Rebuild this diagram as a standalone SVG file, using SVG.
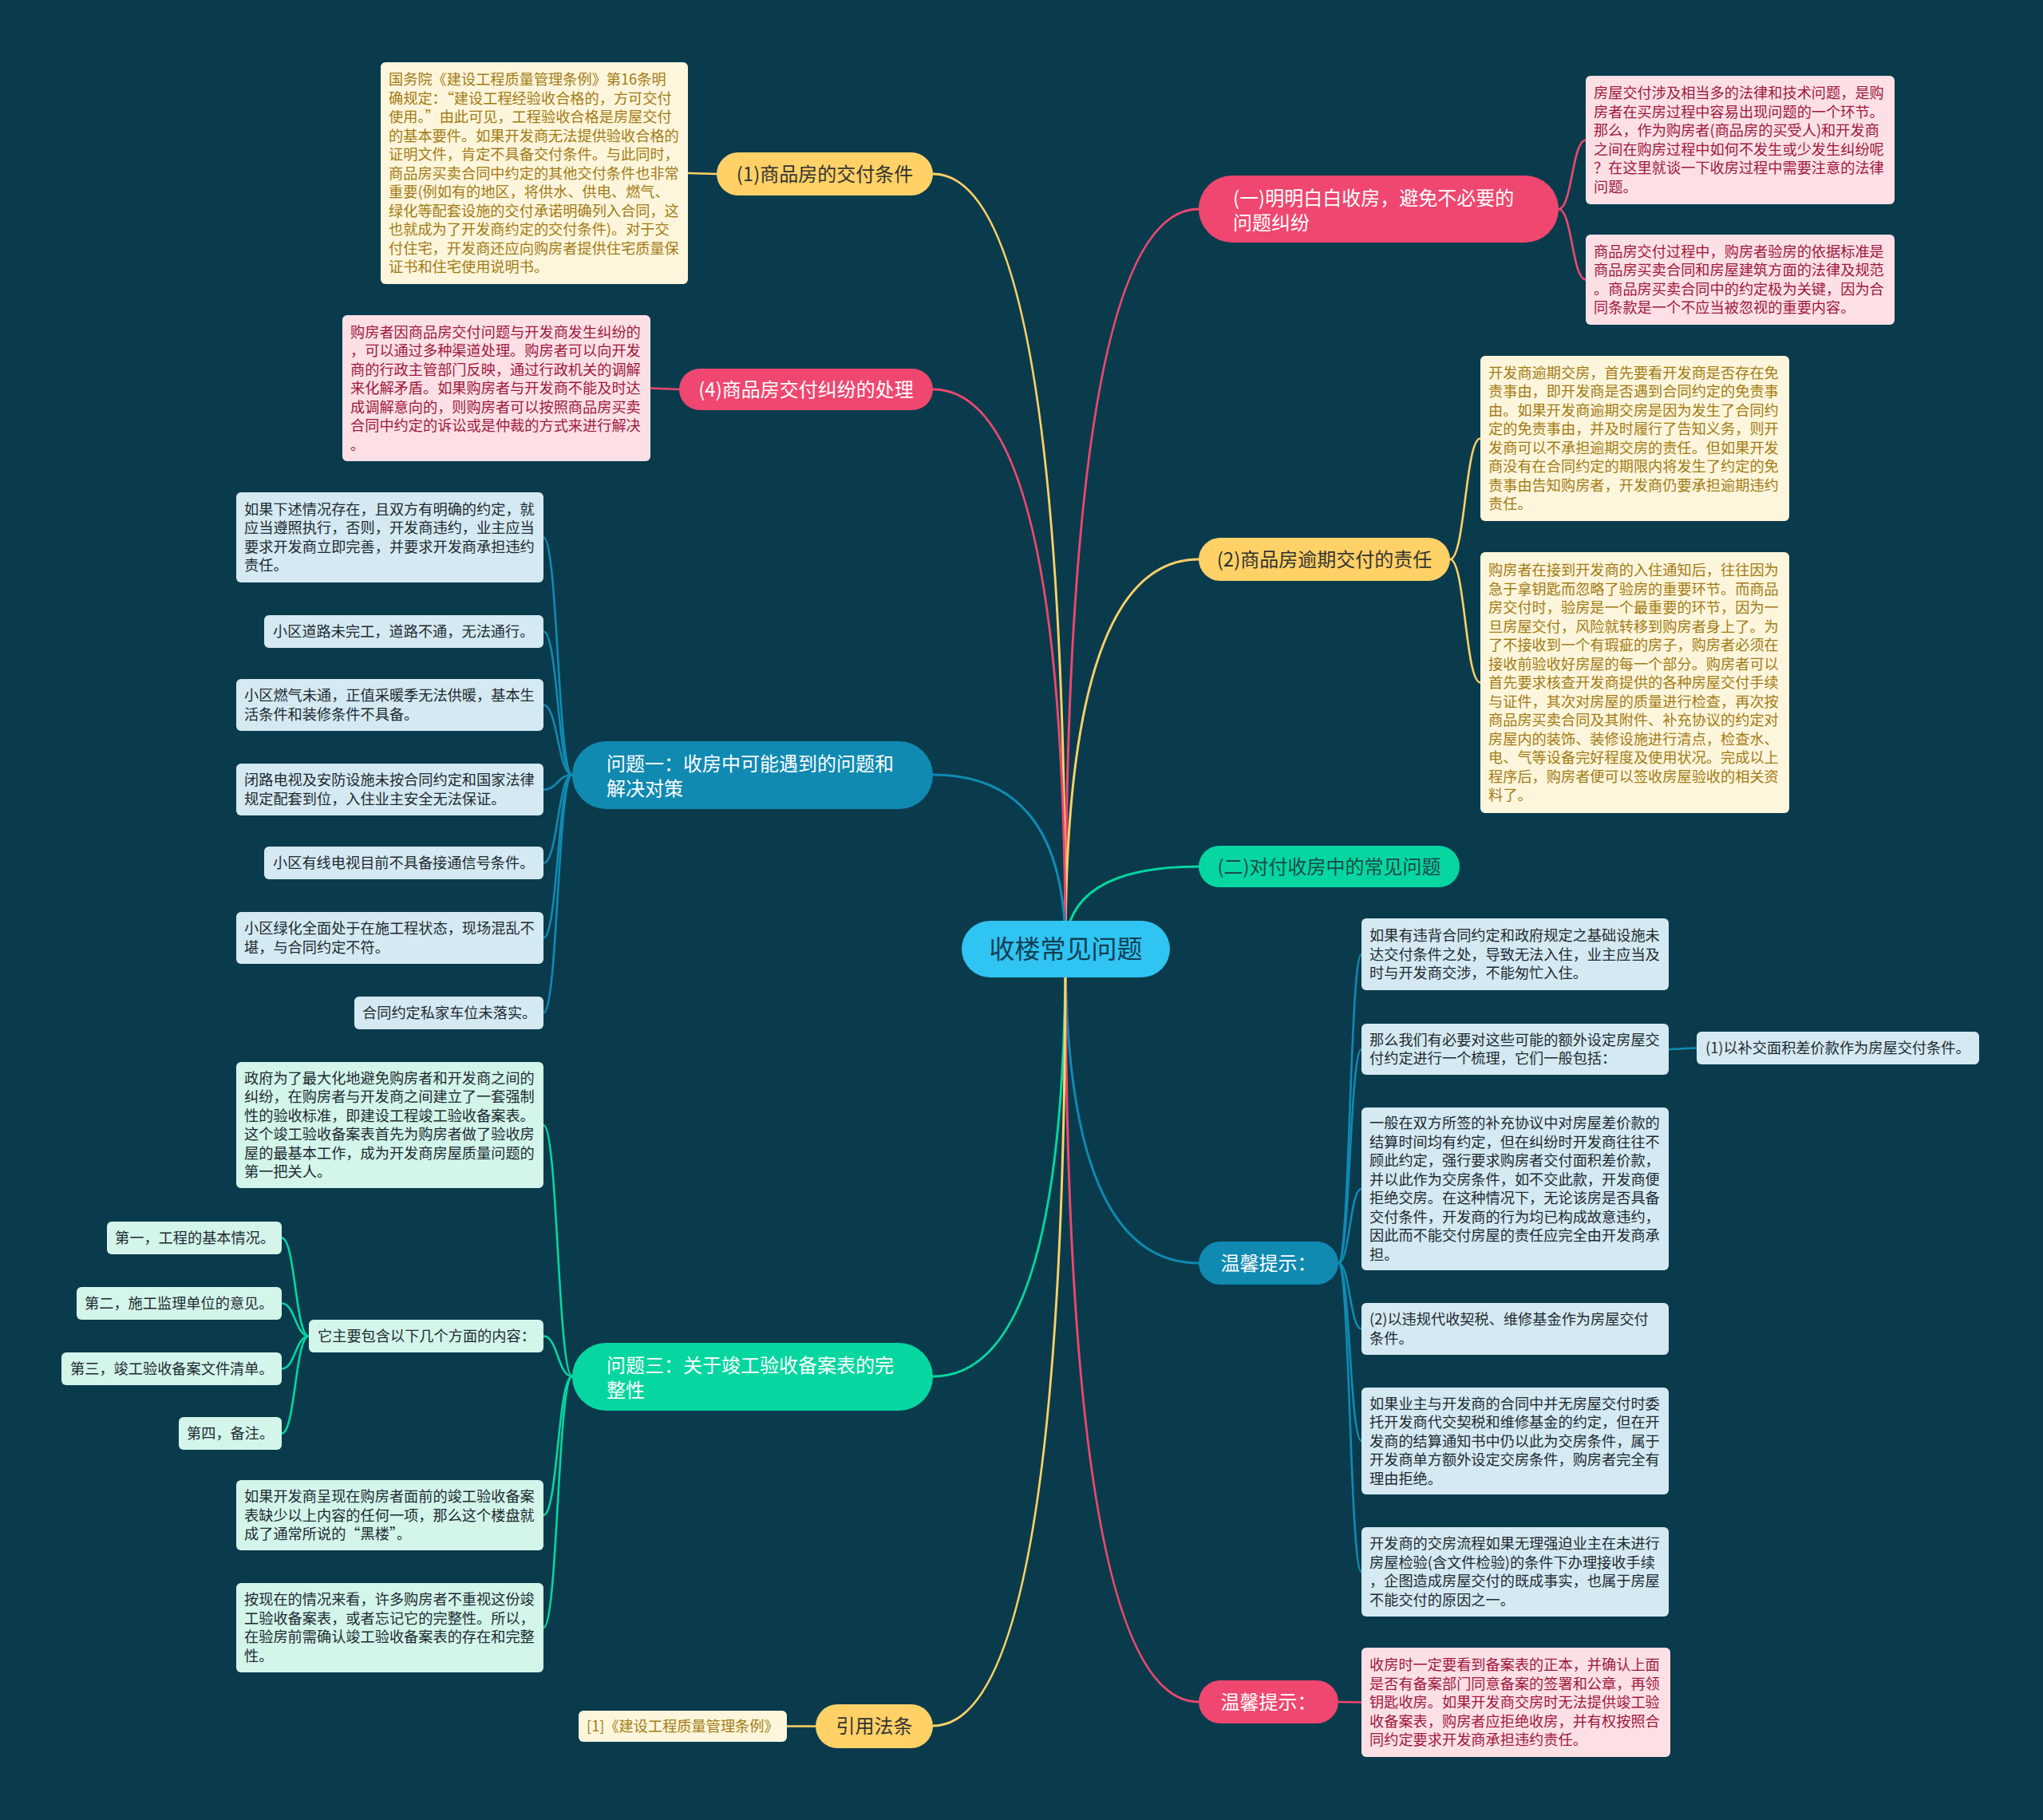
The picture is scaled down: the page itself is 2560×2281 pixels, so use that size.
<svg xmlns="http://www.w3.org/2000/svg" width="2560" height="2281" viewBox="0 0 2560 2281">
<style>
text{font-family:"Noto Sans CJK SC","Noto Sans",sans-serif;}
.bt{font-size:18.2px;}
.nt{font-size:24px;}
.c{stroke-width:3;fill:none;stroke-linecap:round;}
.s{stroke-width:2.6;fill:none;stroke-linecap:round;}
.pk{stroke:#ef476f;} .yl{stroke:#ffd166;} .gr{stroke:#06d6a0;} .bl{stroke:#118ab2;}
.npk{fill:#ef476f;} .nyl{fill:#ffd166;} .ngr{fill:#06d6a0;} .nbl{fill:#118ab2;}
.bpk{fill:#fde0e6;} .byl{fill:#fef6dc;} .bgr{fill:#d3f5ea;} .bbl{fill:#d4e9f1;}
.tpk{fill:#a0183c;} .tyl{fill:#a27b14;} .tdk{fill:#1e2a32;} .tw{fill:#ffffff;} .tn{fill:#333333;}
</style>
<rect width="2560" height="2281" fill="#0a3b4d"/>
<g id="connectors">
<path class="c pk" d="M1335,1190 Q1335,262 1502,262"/>
<path class="c yl" d="M1335,1190 Q1335,701 1502,701"/>
<path class="c gr" d="M1335,1190 Q1335,1086 1502,1086"/>
<path class="c bl" d="M1335,1190 Q1335,1583 1502,1583"/>
<path class="c pk" d="M1335,1190 Q1335,2133 1502,2133"/>
<path class="c yl" d="M1335,1190 Q1335,218 1169,218"/>
<path class="c pk" d="M1335,1190 Q1335,488 1169,488"/>
<path class="c bl" d="M1335,1190 Q1335,971 1169,971"/>
<path class="c gr" d="M1335,1190 Q1335,1725 1169,1725"/>
<path class="c yl" d="M1335,1190 Q1335,2163 1169,2163"/>
<path class="s pk" d="M1953,262 C1970,262 1970,175.5 1987,175.5"/>
<path class="s pk" d="M1953,262 C1970,262 1970,350.5 1987,350.5"/>
<path class="s yl" d="M1817,701 C1836,701 1836,549.5 1855,549.5"/>
<path class="s yl" d="M1817,701 C1836,701 1836,855.5 1855,855.5"/>
<path class="s bl" d="M1677,1583 C1691.5,1583 1691.5,1196 1706,1196"/>
<path class="s bl" d="M1677,1583 C1691.5,1583 1691.5,1315 1706,1315"/>
<path class="s bl" d="M1677,1583 C1691.5,1583 1691.5,1490 1706,1490"/>
<path class="s bl" d="M1677,1583 C1691.5,1583 1691.5,1665.5 1706,1665.5"/>
<path class="s bl" d="M1677,1583 C1691.5,1583 1691.5,1806 1706,1806"/>
<path class="s bl" d="M1677,1583 C1691.5,1583 1691.5,1970 1706,1970"/>
<path class="s bl" d="M2091,1315 C2108.5,1315 2108.5,1313.5 2126,1313.5"/>
<path class="s pk" d="M1677,2133 L1706,2133.5"/>
<path class="s yl" d="M898,218 L862,217"/>
<path class="s pk" d="M851,488 L815,486.5"/>
<path class="s bl" d="M717,971 C699,971 699,673.5 681,673.5"/>
<path class="s bl" d="M717,971 C699,971 699,791.5 681,791.5"/>
<path class="s bl" d="M717,971 C699,971 699,883.5 681,883.5"/>
<path class="s bl" d="M717,971 C699,971 699,989.5 681,989.5"/>
<path class="s bl" d="M717,971 C699,971 699,1081.5 681,1081.5"/>
<path class="s bl" d="M717,971 C699,971 699,1175.5 681,1175.5"/>
<path class="s bl" d="M717,971 C699,971 699,1269.5 681,1269.5"/>
<path class="s gr" d="M717,1725 C699,1725 699,1410 681,1410"/>
<path class="s gr" d="M717,1725 C699,1725 699,1674.5 681,1674.5"/>
<path class="s gr" d="M717,1725 C699,1725 699,1899 681,1899"/>
<path class="s gr" d="M717,1725 C699,1725 699,2040 681,2040"/>
<path class="s gr" d="M387,1674.5 C370,1674.5 370,1551.5 353,1551.5"/>
<path class="s gr" d="M387,1674.5 C370,1674.5 370,1633.5 353,1633.5"/>
<path class="s gr" d="M387,1674.5 C370,1674.5 370,1715.5 353,1715.5"/>
<path class="s gr" d="M387,1674.5 C370,1674.5 370,1796.5 353,1796.5"/>
<path class="s yl" d="M1022,2163.5 L986,2163.5"/>
</g>

<g id="root">
<rect x="1205" y="1154" width="261" height="71" rx="35.5" fill="#2fc4f2"/>
<text x="1335.5" y="1201" font-size="32" text-anchor="middle" fill="#123e52">收楼常见问题</text>
</g>

<g id="n1">
<rect class="npk" x="1502" y="220" width="451" height="84" rx="42"/>
<text class="nt tw" x="1545" y="256.5">(一)明明白白收房，避免不必要的</text>
<text class="nt tw" x="1545" y="287.5">问题纠纷</text>
</g>
<g id="n1a">
<rect class="bpk" x="1987" y="95" width="387" height="161" rx="6"/>
<text class="bt tpk" x="1997"><tspan x="1997" y="123.25">房屋交付涉及相当多的法律和技术问题，是购</tspan><tspan x="1997" y="146.75">房者在买房过程中容易出现问题的一个环节。</tspan><tspan x="1997" y="170.25">那么，作为购房者(商品房的买受人)和开发商</tspan><tspan x="1997" y="193.75">之间在购房过程中如何不发生或少发生纠纷呢</tspan><tspan x="1997" y="217.25">？在这里就谈一下收房过程中需要注意的法律</tspan><tspan x="1997" y="240.75">问题。</tspan></text>
</g>
<g id="n1b">
<rect class="bpk" x="1987" y="294" width="387" height="113" rx="6"/>
<text class="bt tpk"><tspan x="1997" y="321.75">商品房交付过程中，购房者验房的依据标准是</tspan><tspan x="1997" y="345.25">商品房买卖合同和房屋建筑方面的法律及规范</tspan><tspan x="1997" y="368.75">。商品房买卖合同中的约定极为关键，因为合</tspan><tspan x="1997" y="392.25">同条款是一个不应当被忽视的重要内容。</tspan></text>
</g>

<g id="n2">
<rect class="nyl" x="1502" y="674" width="315" height="54" rx="27"/>
<text class="nt tn" x="1659.5" y="709.5" text-anchor="middle">(2)商品房逾期交付的责任</text>
</g>
<g id="n2a">
<rect class="byl" x="1855" y="446" width="387" height="207" rx="6"/>
<text class="bt tyl"><tspan x="1865" y="473.75">开发商逾期交房，首先要看开发商是否存在免</tspan><tspan x="1865" y="497.25">责事由，即开发商是否遇到合同约定的免责事</tspan><tspan x="1865" y="520.75">由。如果开发商逾期交房是因为发生了合同约</tspan><tspan x="1865" y="544.25">定的免责事由，并及时履行了告知义务，则开</tspan><tspan x="1865" y="567.75">发商可以不承担逾期交房的责任。但如果开发</tspan><tspan x="1865" y="591.25">商没有在合同约定的期限内将发生了约定的免</tspan><tspan x="1865" y="614.75">责事由告知购房者，开发商仍要承担逾期违约</tspan><tspan x="1865" y="638.25">责任。</tspan></text>
</g>
<g id="n2b">
<rect class="byl" x="1855" y="692" width="387" height="327" rx="6"/>
<text class="bt tyl"><tspan x="1865" y="721">购房者在接到开发商的入住通知后，往往因为</tspan><tspan x="1865" y="744.5">急于拿钥匙而忽略了验房的重要环节。而商品</tspan><tspan x="1865" y="768">房交付时，验房是一个最重要的环节，因为一</tspan><tspan x="1865" y="791.5">旦房屋交付，风险就转移到购房者身上了。为</tspan><tspan x="1865" y="815">了不接收到一个有瑕疵的房子，购房者必须在</tspan><tspan x="1865" y="838.5">接收前验收好房屋的每一个部分。购房者可以</tspan><tspan x="1865" y="862">首先要求核查开发商提供的各种房屋交付手续</tspan><tspan x="1865" y="885.5">与证件，其次对房屋的质量进行检查，再次按</tspan><tspan x="1865" y="909">商品房买卖合同及其附件、补充协议的约定对</tspan><tspan x="1865" y="932.5">房屋内的装饰、装修设施进行清点，检查水、</tspan><tspan x="1865" y="956">电、气等设备完好程度及使用状况。完成以上</tspan><tspan x="1865" y="979.5">程序后，购房者便可以签收房屋验收的相关资</tspan><tspan x="1865" y="1003">料了。</tspan></text>
</g>

<g id="n3">
<rect class="ngr" x="1502" y="1060" width="327" height="52" rx="26"/>
<text class="nt" x="1665.5" y="1094.5" text-anchor="middle" fill="#1d4a4a">(二)对付收房中的常见问题</text>
</g>

<g id="n4">
<rect class="nbl" x="1502" y="1556" width="175" height="54" rx="27"/>
<text class="nt tw" x="1589.5" y="1591.5" text-anchor="middle">温馨提示：</text>
</g>
<g id="n4a">
<rect class="bbl" x="1706" y="1151" width="385" height="90" rx="6"/>
<text class="bt tdk"><tspan x="1716" y="1179">如果有违背合同约定和政府规定之基础设施未</tspan><tspan x="1716" y="1202.5">达交付条件之处，导致无法入住，业主应当及</tspan><tspan x="1716" y="1226">时与开发商交涉，不能匆忙入住。</tspan></text>
</g>
<g id="n4b">
<rect class="bbl" x="1706" y="1283" width="385" height="64" rx="6"/>
<text class="bt tdk"><tspan x="1716" y="1309.75">那么我们有必要对这些可能的额外设定房屋交</tspan><tspan x="1716" y="1333.25">付约定进行一个梳理，它们一般包括：</tspan></text>
</g>
<g id="n4b1">
<rect class="bbl" x="2126" y="1293" width="354" height="41" rx="6"/>
<text class="bt tdk" x="2137" y="1320">(1)以补交面积差价款作为房屋交付条件。</text>
</g>
<g id="n4c">
<rect class="bbl" x="1706" y="1388" width="385" height="204" rx="6"/>
<text class="bt tdk"><tspan x="1716" y="1414.25">一般在双方所签的补充协议中对房屋差价款的</tspan><tspan x="1716" y="1437.75">结算时间均有约定，但在纠纷时开发商往往不</tspan><tspan x="1716" y="1461.25">顾此约定，强行要求购房者交付面积差价款，</tspan><tspan x="1716" y="1484.75">并以此作为交房条件，如不交此款，开发商便</tspan><tspan x="1716" y="1508.25">拒绝交房。在这种情况下，无论该房是否具备</tspan><tspan x="1716" y="1531.75">交付条件，开发商的行为均已构成故意违约，</tspan><tspan x="1716" y="1555.25">因此而不能交付房屋的责任应完全由开发商承</tspan><tspan x="1716" y="1578.75">担。</tspan></text>
</g>
<g id="n4d">
<rect class="bbl" x="1706" y="1633" width="385" height="65" rx="6"/>
<text class="bt tdk"><tspan x="1716" y="1660.25">(2)以违规代收契税、维修基金作为房屋交付</tspan><tspan x="1716" y="1683.75">条件。</tspan></text>
</g>
<g id="n4e">
<rect class="bbl" x="1706" y="1739" width="385" height="134" rx="6"/>
<text class="bt tdk"><tspan x="1716" y="1765.5">如果业主与开发商的合同中并无房屋交付时委</tspan><tspan x="1716" y="1789">托开发商代交契税和维修基金的约定，但在开</tspan><tspan x="1716" y="1812.5">发商的结算通知书中仍以此为交房条件，属于</tspan><tspan x="1716" y="1836">开发商单方额外设定交房条件，购房者完全有</tspan><tspan x="1716" y="1859.5">理由拒绝。</tspan></text>
</g>
<g id="n4f">
<rect class="bbl" x="1706" y="1914" width="385" height="112" rx="6"/>
<text class="bt tdk"><tspan x="1716" y="1941.25">开发商的交房流程如果无理强迫业主在未进行</tspan><tspan x="1716" y="1964.75">房屋检验(含文件检验)的条件下办理接收手续</tspan><tspan x="1716" y="1988.25">，企图造成房屋交付的既成事实，也属于房屋</tspan><tspan x="1716" y="2011.75">不能交付的原因之一。</tspan></text>
</g>

<g id="n5">
<rect class="npk" x="1502" y="2106" width="175" height="54" rx="27"/>
<text class="nt tw" x="1589.5" y="2141.5" text-anchor="middle">温馨提示：</text>
</g>
<g id="n5a">
<rect class="bpk" x="1706" y="2065" width="387" height="137" rx="6"/>
<text class="bt tpk"><tspan x="1716" y="2093">收房时一定要看到备案表的正本，并确认上面</tspan><tspan x="1716" y="2116.5">是否有备案部门同意备案的签署和公章，再领</tspan><tspan x="1716" y="2140">钥匙收房。如果开发商交房时无法提供竣工验</tspan><tspan x="1716" y="2163.5">收备案表，购房者应拒绝收房，并有权按照合</tspan><tspan x="1716" y="2187">同约定要求开发商承担违约责任。</tspan></text>
</g>

<g id="l1">
<rect class="nyl" x="898" y="191" width="271" height="54" rx="27"/>
<text class="nt tn" x="1033.5" y="226.5" text-anchor="middle">(1)商品房的交付条件</text>
</g>
<g id="l1a">
<rect class="byl" x="477" y="78" width="385" height="278" rx="6"/>
<text class="bt tyl"><tspan x="487" y="106">国务院《建设工程质量管理条例》第16条明</tspan><tspan x="487" y="129.5">确规定：“建设工程经验收合格的，方可交付</tspan><tspan x="487" y="153">使用。”由此可见，工程验收合格是房屋交付</tspan><tspan x="487" y="176.5">的基本要件。如果开发商无法提供验收合格的</tspan><tspan x="487" y="200">证明文件，肯定不具备交付条件。与此同时，</tspan><tspan x="487" y="223.5">商品房买卖合同中约定的其他交付条件也非常</tspan><tspan x="487" y="247">重要(例如有的地区，将供水、供电、燃气、</tspan><tspan x="487" y="270.5">绿化等配套设施的交付承诺明确列入合同，这</tspan><tspan x="487" y="294">也就成为了开发商约定的交付条件)。对于交</tspan><tspan x="487" y="317.5">付住宅，开发商还应向购房者提供住宅质量保</tspan><tspan x="487" y="341">证书和住宅使用说明书。</tspan></text>
</g>

<g id="l2">
<rect class="npk" x="851" y="462" width="318" height="52" rx="26"/>
<text class="nt tw" x="1010" y="496.5" text-anchor="middle">(4)商品房交付纠纷的处理</text>
</g>
<g id="l2a">
<rect class="bpk" x="429" y="395" width="386" height="183" rx="6"/>
<text class="bt tpk"><tspan x="439" y="422.5">购房者因商品房交付问题与开发商发生纠纷的</tspan><tspan x="439" y="446">，可以通过多种渠道处理。购房者可以向开发</tspan><tspan x="439" y="469.5">商的行政主管部门反映，通过行政机关的调解</tspan><tspan x="439" y="493">来化解矛盾。如果购房者与开发商不能及时达</tspan><tspan x="439" y="516.5">成调解意向的，则购房者可以按照商品房买卖</tspan><tspan x="439" y="540">合同中约定的诉讼或是仲裁的方式来进行解决</tspan><tspan x="439" y="563.5">。</tspan></text>
</g>

<g id="l3">
<rect class="nbl" x="717" y="929" width="452" height="85" rx="42.5"/>
<text class="nt tw" x="760" y="965.5">问题一：收房中可能遇到的问题和</text>
<text class="nt tw" x="760" y="996.5">解决对策</text>
</g>
<g id="l3a">
<rect class="bbl" x="296" y="617" width="385" height="113" rx="6"/>
<text class="bt tdk"><tspan x="306" y="644.75">如果下述情况存在，且双方有明确的约定，就</tspan><tspan x="306" y="668.25">应当遵照执行，否则，开发商违约，业主应当</tspan><tspan x="306" y="691.75">要求开发商立即完善，并要求开发商承担违约</tspan><tspan x="306" y="715.25">责任。</tspan></text>
</g>
<g id="l3b">
<rect class="bbl" x="331" y="771" width="350" height="41" rx="6"/>
<text class="bt tdk" x="342" y="798">小区道路未完工，道路不通，无法通行。</text>
</g>
<g id="l3c">
<rect class="bbl" x="296" y="851" width="385" height="65" rx="6"/>
<text class="bt tdk"><tspan x="306" y="878.25">小区燃气未通，正值采暖季无法供暖，基本生</tspan><tspan x="306" y="901.75">活条件和装修条件不具备。</tspan></text>
</g>
<g id="l3d">
<rect class="bbl" x="296" y="957" width="385" height="65" rx="6"/>
<text class="bt tdk"><tspan x="306" y="984.25">闭路电视及安防设施未按合同约定和国家法律</tspan><tspan x="306" y="1007.75">规定配套到位，入住业主安全无法保证。</tspan></text>
</g>
<g id="l3e">
<rect class="bbl" x="331" y="1061" width="350" height="41" rx="6"/>
<text class="bt tdk" x="342" y="1088">小区有线电视目前不具备接通信号条件。</text>
</g>
<g id="l3f">
<rect class="bbl" x="296" y="1143" width="385" height="65" rx="6"/>
<text class="bt tdk"><tspan x="306" y="1170.25">小区绿化全面处于在施工程状态，现场混乱不</tspan><tspan x="306" y="1193.75">堪，与合同约定不符。</tspan></text>
</g>
<g id="l3g">
<rect class="bbl" x="444" y="1249" width="237" height="41" rx="6"/>
<text class="bt tdk" x="454" y="1276">合同约定私家车位未落实。</text>
</g>

<g id="l4">
<rect class="ngr" x="717" y="1683" width="452" height="85" rx="42.5"/>
<text class="nt tw" x="760" y="1719.5">问题三：关于竣工验收备案表的完</text>
<text class="nt tw" x="760" y="1750.5">整性</text>
</g>
<g id="l4a">
<rect class="bgr" x="296" y="1331" width="385" height="158" rx="6"/>
<text class="bt tdk"><tspan x="306" y="1357.75">政府为了最大化地避免购房者和开发商之间的</tspan><tspan x="306" y="1381.25">纠纷，在购房者与开发商之间建立了一套强制</tspan><tspan x="306" y="1404.75">性的验收标准，即建设工程竣工验收备案表。</tspan><tspan x="306" y="1428.25">这个竣工验收备案表首先为购房者做了验收房</tspan><tspan x="306" y="1451.75">屋的最基本工作，成为开发商房屋质量问题的</tspan><tspan x="306" y="1475.25">第一把关人。</tspan></text>
</g>
<g id="l4b">
<rect class="bgr" x="387" y="1654" width="294" height="41" rx="6"/>
<text class="bt tdk" x="398" y="1681">它主要包含以下几个方面的内容：</text>
</g>
<g id="l4b1">
<rect class="bgr" x="134" y="1531" width="219" height="41" rx="6"/>
<text class="bt tdk" x="144" y="1558">第一，工程的基本情况。</text>
</g>
<g id="l4b2">
<rect class="bgr" x="96" y="1613" width="257" height="41" rx="6"/>
<text class="bt tdk" x="106" y="1640">第二，施工监理单位的意见。</text>
</g>
<g id="l4b3">
<rect class="bgr" x="77" y="1695" width="276" height="41" rx="6"/>
<text class="bt tdk" x="88" y="1722">第三，竣工验收备案文件清单。</text>
</g>
<g id="l4b4">
<rect class="bgr" x="224" y="1776" width="129" height="41" rx="6"/>
<text class="bt tdk" x="234" y="1803">第四，备注。</text>
</g>
<g id="l4c">
<rect class="bgr" x="296" y="1855" width="385" height="88" rx="6"/>
<text class="bt tdk"><tspan x="306" y="1882">如果开发商呈现在购房者面前的竣工验收备案</tspan><tspan x="306" y="1905.5">表缺少以上内容的任何一项，那么这个楼盘就</tspan><tspan x="306" y="1929">成了通常所说的“黑楼”。</tspan></text>
</g>
<g id="l4d">
<rect class="bgr" x="296" y="1984" width="385" height="112" rx="6"/>
<text class="bt tdk"><tspan x="306" y="2011.25">按现在的情况来看，许多购房者不重视这份竣</tspan><tspan x="306" y="2034.75">工验收备案表，或者忘记它的完整性。所以，</tspan><tspan x="306" y="2058.25">在验房前需确认竣工验收备案表的存在和完整</tspan><tspan x="306" y="2081.75">性。</tspan></text>
</g>

<g id="l5">
<rect class="nyl" x="1022" y="2136" width="147" height="55" rx="27.5"/>
<text class="nt tn" x="1095.5" y="2172" text-anchor="middle">引用法条</text>
</g>
<g id="l5a">
<rect class="byl" x="725" y="2144" width="261" height="39" rx="6"/>
<text class="bt tyl" x="735" y="2170">[1]《建设工程质量管理条例》</text>
</g>
</svg>
